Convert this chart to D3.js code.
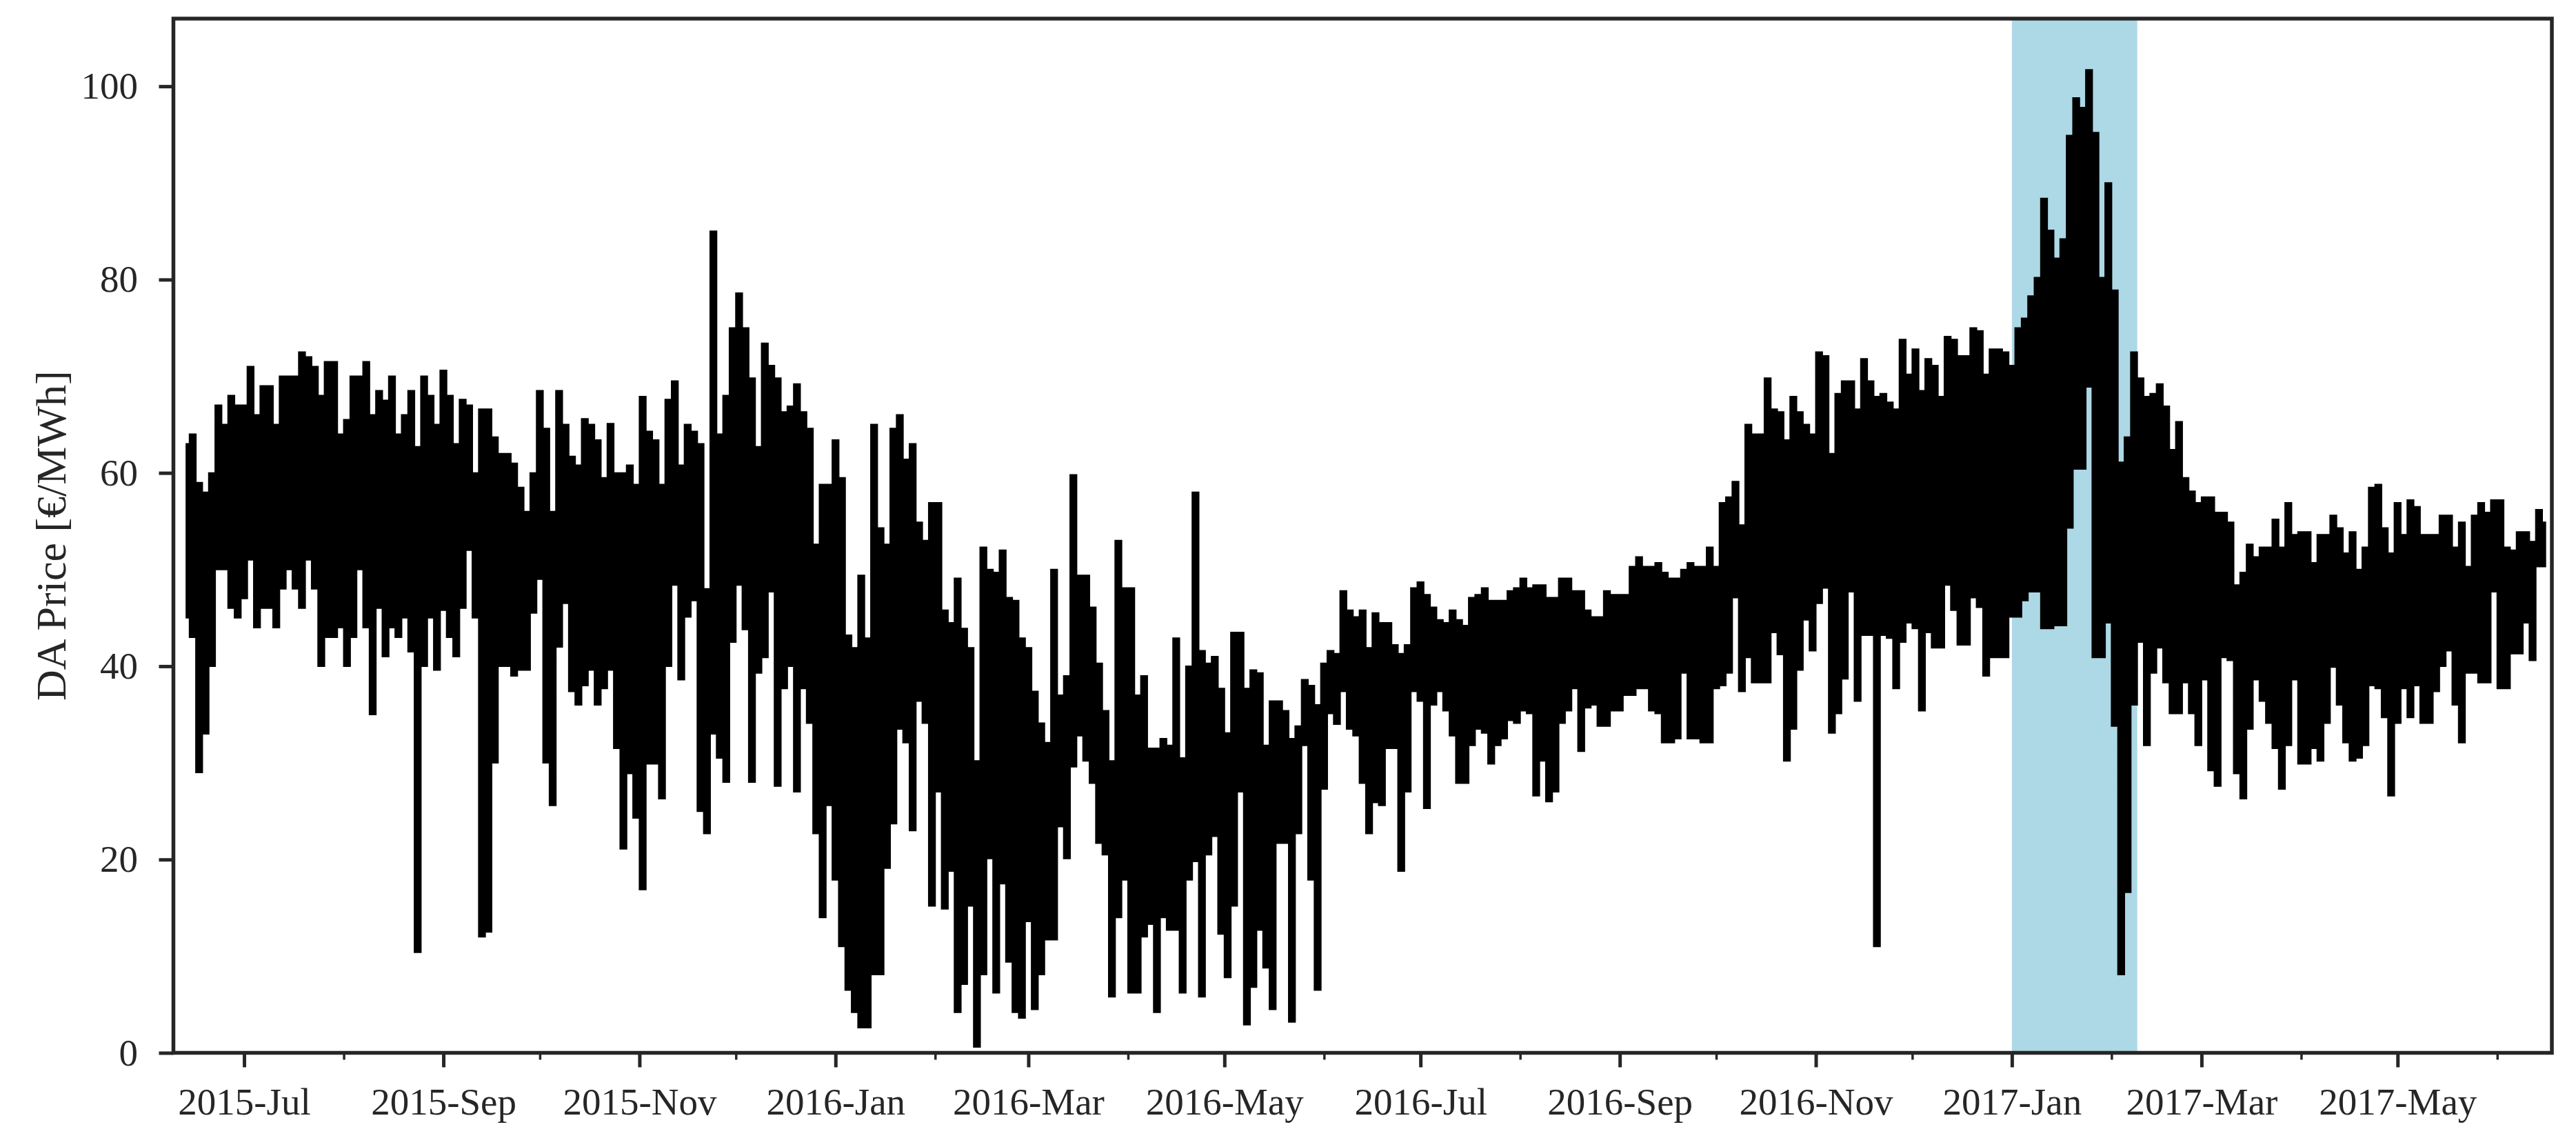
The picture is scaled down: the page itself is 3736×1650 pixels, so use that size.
<!DOCTYPE html>
<html>
<head>
<meta charset="utf-8">
<script src="https://cdn.jsdelivr.net/npm/d3@7"></script>
<style>
  body { margin: 0; background: #fff; }
  svg text { font-family: "Liberation Serif", "Times New Roman", serif; fill: #262626; }
</style>
</head>
<body>
<div class="main"></div>
<script>
const startDay = "2015-06-12";
const stepDays = 2;

const hi = [
  63, 64, 59, 58, 60, 67, 65, 68, 67, 67,
  71, 66, 69, 69, 65, 70, 70, 70, 72.5, 72,
  71, 68, 71.5, 71.5, 64, 65.5, 70, 70, 71.5, 66,
  68.5, 67.5, 70, 64, 66, 68.5, 62.7, 70, 68, 65,
  70.6, 68, 63, 67.6, 67, 60, 66.6, 66.6, 63.7, 62,
  62, 61, 58.5, 56, 60, 68.5, 64.6, 56, 68.5, 65,
  61.7, 60.8, 65.6, 65, 63.4, 59.5, 65.1, 60, 60, 60.8,
  58.8, 67.9, 64.3, 63.4, 58.8, 67.6, 69.5, 60.8, 65, 64.3,
  63, 48, 85, 64, 68, 75, 78.6, 75, 69.8, 62.7,
  73.4, 71.1, 69.8, 66.3, 66.9, 69.2, 66.3, 64.6, 52.6, 58.8,
  58.8, 63.4, 59.5, 43.2, 41.9, 49.4, 42.9, 65, 54.3, 52.6,
  64.6, 66, 61.4, 63, 54.9, 53, 56.9, 56.9, 45.8, 44.5,
  49.1, 43.9, 41.9, 30.2, 52.3, 50, 49.7, 52, 47.1, 46.8,
  42.9, 41.9, 37.4, 34.1, 32.1, 50, 37, 39, 59.8, 49.4,
  49.4, 46.1, 40.3, 35.4, 30.2, 53, 48.1, 48.1, 37, 39,
  31.5, 31.5, 32.5, 31.8, 42.9, 30.5, 40, 58, 41.6, 40.3,
  41, 37.7, 33.1, 43.5, 43.5, 37.7, 39.6, 39.3, 31.8, 36.4,
  36.4, 35.4, 32.5, 33.8, 38.6, 38, 36, 40.3, 41.6, 41.3,
  47.8, 45.8, 45.1, 45.8, 41.9, 45.5, 44.5, 44.5, 42.2, 41.3,
  42.2, 48.1, 48.7, 47.4, 46.1, 44.8, 44.5, 45.8, 44.8, 44.2,
  47.1, 47.4, 48.1, 46.8, 46.8, 46.8, 47.8, 48.1, 49.1, 48.1,
  48.4, 48.4, 47.1, 47.1, 49.1, 49.1, 47.8, 47.8, 45.8, 45.1,
  45.1, 47.8, 47.4, 47.4, 47.4, 50.3, 51.3, 50.3, 50.3, 50.7,
  49.7, 49.1, 49.1, 50, 50.7, 50.3, 50.3, 52.3, 50.3, 56.9,
  57.5, 59.1, 54.6, 65, 64, 64, 69.8, 66.6, 66.3, 63.4,
  67.9, 66.3, 65, 64, 72.5, 72.1, 62, 68.2, 69.5, 69.5,
  66.6, 71.8, 69.5, 67.9, 68.2, 67.3, 66.6, 73.8, 70.2, 72.8,
  68.5, 71.8, 71.1, 67.9, 74.1, 73.8, 72.1, 72.1, 75, 74.7,
  70.2, 72.8, 72.8, 72.5, 71.1, 75, 76, 78.3, 80.2, 88.4,
  85.1, 82.2, 84.2, 94.9, 98.8, 97.8, 101.7, 95.2, 80.2, 90,
  78.9, 61.1, 63.7, 72.5, 69.8, 67.9, 68.2, 69.2, 66.9, 62.4,
  65.3, 59.5, 58.1, 56.9, 57.5, 57.5, 55.9, 55.9, 54.9, 48.4,
  49.7, 52.6, 51.3, 52.3, 52.3, 55.2, 52.3, 56.9, 53.6, 53.9,
  53.9, 50.7, 53.6, 53.6, 55.6, 54.3, 51.7, 53.9, 50, 52.3,
  58.5, 58.8, 54.3, 51.7, 56.9, 53.6, 57.2, 56.5, 53.6, 53.6,
  53.6, 55.6, 55.6, 52.3, 54.9, 50.3, 55.6, 56.9, 55.9, 57.2,
  57.2, 52.3, 52, 53.9, 53.9, 52.9, 56.2, 54.9
];

const lo = [
  45, 43, 29, 33, 40, 50, 50, 46, 45, 47,
  51, 44, 46, 46, 44, 48, 50, 48, 46, 51,
  48, 40, 43, 43, 44, 40, 43, 50, 44, 35,
  46, 41, 44, 43, 45, 41.5, 10.4, 40, 45, 39.6,
  45.8, 43, 41, 46, 52, 45, 12, 12.5, 30, 40,
  40, 39, 39.6, 39.6, 45.5, 49, 30, 25.6, 42, 46.5,
  37.4, 36, 38, 39.6, 36, 37.7, 39.6, 31.5, 21.1, 28.9,
  24.3, 16.9, 29.9, 29.9, 26.3, 40, 48.4, 38.6, 45.1, 46.8,
  25, 22.7, 33, 30.5, 28, 42.5, 48.4, 43.8, 28, 39.3,
  40.9, 47.7, 27.6, 37.7, 40, 27, 37.7, 34.1, 22.7, 14,
  25.6, 17.9, 11, 6.5, 4.2, 2.6, 2.6, 8.1, 8.1, 19.1,
  23.7, 33.5, 32.1, 23, 36.4, 34.1, 15.2, 27, 14.9, 18.8,
  4.2, 7.1, 15.2, 0.6, 8.1, 20.1, 6.2, 17.5, 9.4, 4.2,
  3.6, 13.6, 4.5, 8.1, 11.7, 11.7, 23.4, 20.1, 29.6, 32.8,
  30.2, 27.9, 21.7, 20.5, 5.8, 14, 17.9, 6.2, 6.2, 12,
  13.3, 4.2, 14, 12.7, 12.7, 6.2, 17.9, 19.8, 5.8, 20.5,
  22.4, 12.3, 7.8, 15.2, 27, 2.9, 6.8, 12.7, 8.8, 4.5,
  21.7, 21.7, 3.2, 22.7, 31.8, 17.9, 6.5, 27.3, 35.1, 34,
  37.4, 33.5, 32.8, 27.9, 22.7, 25.9, 25.6, 31.5, 31.5, 18.8,
  27, 37.4, 36.4, 25.3, 36, 37.4, 35.4, 32.8, 27.9, 27.9,
  31.8, 33.5, 33.1, 29.9, 31.8, 32.5, 34.4, 34.1, 35.4, 35.1,
  26.6, 30.2, 26, 27, 34.1, 35.4, 37.7, 31.2, 35.7, 36,
  33.8, 33.8, 35.4, 35.4, 37, 37, 37.7, 37.7, 35.4, 35.1,
  32.1, 32.1, 32.5, 39.3, 32.5, 32.5, 32.1, 32.1, 37.7, 38,
  39.3, 47.1, 37.4, 40.9, 38.3, 38.3, 38.3, 43.5, 41.2, 30.2,
  33.5, 39.6, 44.8, 41.6, 46.5, 48.1, 33.1, 35.1, 38.7, 47.7,
  36.4, 43.2, 43.2, 11, 43.2, 42.9, 37.7, 42.5, 44.5, 43.9,
  35.4, 43.5, 41.9, 41.9, 48.4, 45.8, 42.2, 42.2, 47.1, 46.1,
  39, 40.9, 40.9, 40.9, 45.1, 45.1, 46.8, 47.7, 47.7, 43.9,
  43.9, 44.2, 44.2, 54.3, 60.4, 60.4, 68.9, 40.9, 40.9, 44.5,
  33.8, 8.1, 16.6, 36, 42.5, 31.8, 39.3, 41.9, 38.3, 35.1,
  35.1, 38.3, 35.1, 31.8, 38.6, 29.2, 27.6, 40.9, 40.6, 28.9,
  26.3, 33.5, 38.6, 36.4, 34.1, 31.5, 27.3, 31.8, 38.6, 29.9,
  29.9, 31.5, 30.2, 34.1, 39.9, 36, 32.1, 30.2, 30.5, 31.8,
  38, 37.7, 34.7, 26.6, 34.1, 37.7, 34.7, 38, 34.1, 34.1,
  37.4, 40, 41.6, 36, 32.1, 39.3, 39.3, 38.3, 38.3, 47.7,
  37.7, 37.7, 41.3, 41.3, 44.5, 40.6, 50.3, 50.3
];

const yTicks = [0, 20, 40, 60, 80, 100];
const xDomain = ["2015-06-09", "2017-06-18"];
const highlight = ["2017-01-01", "2017-02-09"];
const yLabel = "DA Price [€/MWh]";

// Dimensions
const margin = { top: 27, right: 35, bottom: 123.5, left: 251.5 };
const width = 3736 - margin.left - margin.right;
const height = 1650 - margin.top - margin.bottom;
const ink = "#262626";

const svg = d3.select(".main")
  .append("svg")
    .attr("width", width + margin.left + margin.right)
    .attr("height", height + margin.top + margin.bottom)
  .append("g")
    .attr("transform", "translate(" + margin.left + "," + margin.top + ")");

const parse = d3.utcParse("%Y-%m-%d");
const start = parse(startDay);

// one record per 2-day block, placed at the block centre
const data = hi.map(function (h, i) {
  return { date: d3.utcDay.offset(start, i * stepDays + stepDays / 2), hi: h, lo: lo[i] };
});

const x = d3.scaleUtc()
  .domain(xDomain.map(parse))
  .range([0, width]);

const y = d3.scaleLinear()
  .domain([0, 107])
  .range([height, 0]);

svg.append("clipPath").attr("id", "clip")
  .append("rect").attr("width", width).attr("height", height);

// shaded period
svg.append("rect")
  .attr("x", x(parse(highlight[0])))
  .attr("width", x(parse(highlight[1])) - x(parse(highlight[0])))
  .attr("y", 0)
  .attr("height", height)
  .attr("fill", "#add8e6");

// price band, drawn as steps so the edges stay vertical like the hourly trace
const band = d3.area()
  .x(function (d) { return x(d.date); })
  .y0(function (d) { return y(d.lo); })
  .y1(function (d) { return y(d.hi); })
  .curve(d3.curveStep);

svg.append("path")
  .datum(data)
  .attr("clip-path", "url(#clip)")
  .attr("fill", "#000")
  .attr("stroke", "#000")
  .attr("stroke-width", 2)
  .attr("d", band);

// x axis: major ticks every two months, minor ticks in between
const months = d3.utcMonth.range(x.domain()[0], x.domain()[1]);
const major = months.filter(function (d) { return d.getUTCMonth() % 2 === 0; });
const minor = months.filter(function (d) { return d.getUTCMonth() % 2 === 1; });

const xMinor = svg.append("g")
  .attr("transform", "translate(0," + height + ")")
  .call(d3.axisBottom(x).tickValues(minor).tickSize(10).tickFormat(""));

const xMajor = svg.append("g")
  .attr("transform", "translate(0," + height + ")")
  .call(d3.axisBottom(x).tickValues(major).tickSize(21).tickPadding(29.5)
        .tickFormat(d3.utcFormat("%Y-%b")));

const yAxis = svg.append("g")
  .call(d3.axisLeft(y).tickValues(yTicks).tickSize(21).tickPadding(30.5));

[xMinor, xMajor, yAxis].forEach(function (g) {
  g.select(".domain").remove();
  g.selectAll("text").attr("font-size", 55).attr("font-family", null);
});
xMinor.selectAll("line").attr("stroke", ink).attr("stroke-width", 3.5);
xMajor.selectAll("line").attr("stroke", ink).attr("stroke-width", 5);
yAxis.selectAll("line").attr("stroke", ink).attr("stroke-width", 5);

// frame
svg.append("rect")
  .attr("width", width)
  .attr("height", height)
  .attr("fill", "none")
  .attr("stroke", ink)
  .attr("stroke-width", 5.5);

// y axis title
svg.append("text")
  .attr("transform", "rotate(-90)")
  .attr("x", -height / 2)
  .attr("y", -157)
  .attr("text-anchor", "middle")
  .attr("font-size", 62)
  .text(yLabel);
</script>
</body>
</html>
